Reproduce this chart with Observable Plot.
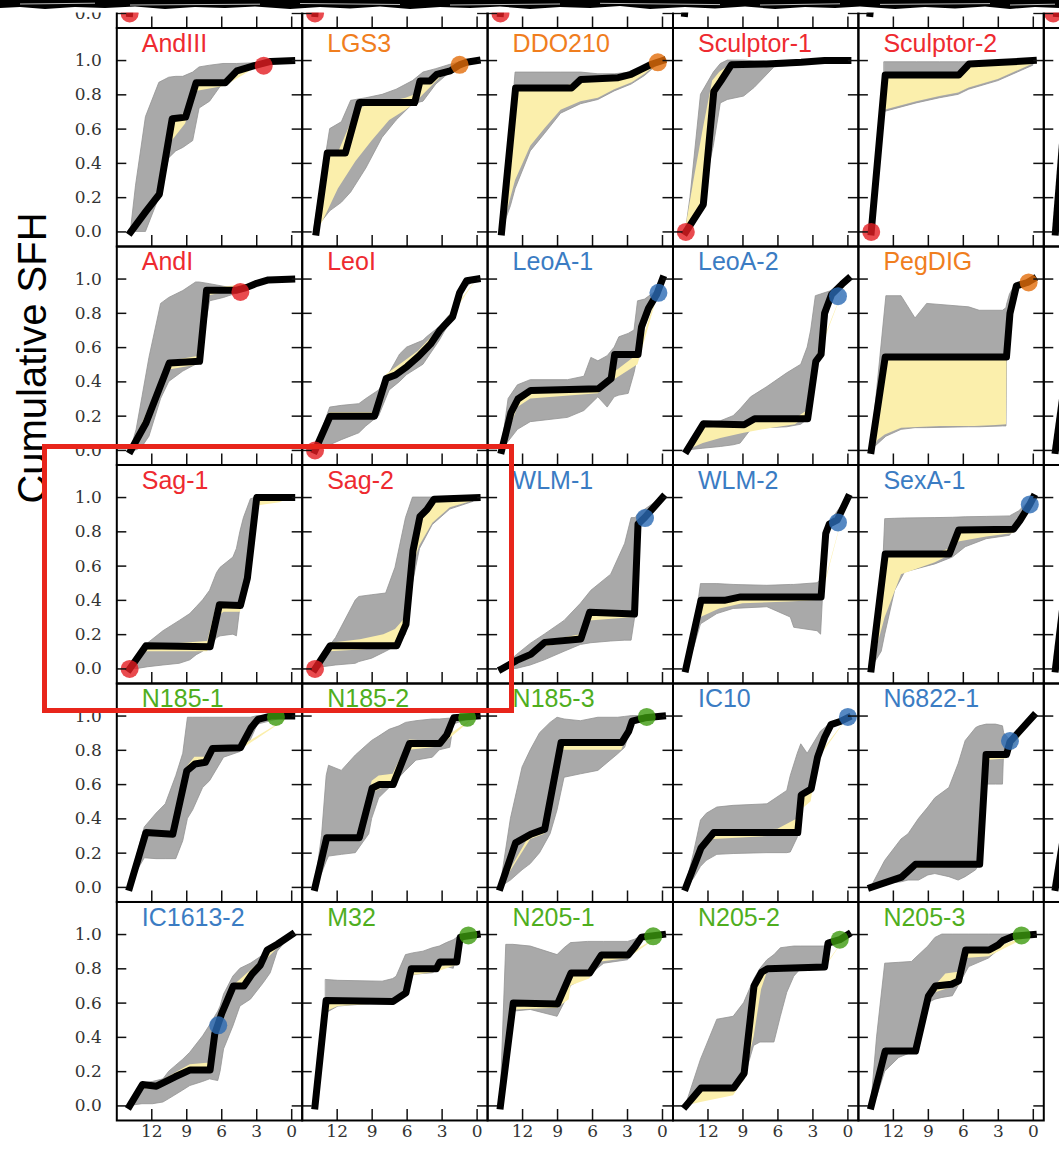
<!DOCTYPE html>
<html>
<head>
<meta charset="utf-8">
<script src="https://cdn.jsdelivr.net/npm/d3@7"></script>
<script src="https://cdn.jsdelivr.net/npm/@observablehq/plot@0.6"></script>
<style>
  html, body { margin: 0; padding: 0; background: #fff; }
  #page { position: relative; width: 1059px; height: 1152px; overflow: hidden; background: #fff; }
  #chart { position: absolute; left: 0; top: -191px; width: 1229px; }
  #chart svg { max-width: none !important; }
  #overlay { position: absolute; left: 0; top: 0; pointer-events: none; }
</style>
</head>
<body>
<div id="page">
  <div id="chart"></div>
  <svg id="overlay" width="1059" height="1152">
    <!-- torn paper edge along the top: blank margin with a ragged dark rim -->
    <rect x="0" y="0" width="1059" height="12.5" fill="#fff"/>
    <path d="M0,0 H1059 V8 L1035,7 L1010,9 L985,6.5 L955,8.5 L925,7 L895,9 L860,6.5 L835,8 L805,7 L775,9 L745,6.5 L715,8.5 L685,7 L650,9 L620,6 L590,8 L560,7 L530,9 L500,6.5 L470,8 L440,7 L410,9 L380,6.5 L350,8.5 L320,7 L290,9 L255,6.5 L225,8 L195,7 L165,9 L135,6.5 L105,8 L75,7 L45,9 L20,7 L0,8 Z" fill="#000"/>
    <path d="M20,4 L95,3.2 M130,5 L260,4.2 M300,3.5 L400,4.5 M450,5 L560,4 M600,3.3 L720,4.6 M760,5 L840,3.8 M880,4.4 L990,3.6 M1010,5 L1055,4.2" stroke="#cfcfcf" stroke-width="0.9" fill="none"/>
    <text id="ylabel" transform="translate(46,358) rotate(-90)" text-anchor="middle"
          font-family="Liberation Sans, Arial, Helvetica, sans-serif" font-size="40" fill="#000">Cumulative SFH</text>
    <rect x="44.5" y="446.5" width="467" height="264" fill="none" stroke="#e8251b" stroke-width="5"/>
  </svg>
</div>
<script>
// Cumulative star-formation histories, lookback time in Gyr.
const galaxyNames = [
  "AndIII", "LGS3", "DDO210", "Sculptor-1", "Sculptor-2",
  "AndI", "LeoI", "LeoA-1", "LeoA-2", "PegDIG",
  "Sag-1", "Sag-2", "WLM-1", "WLM-2", "SexA-1",
  "N185-1", "N185-2", "N185-3", "IC10", "N6822-1",
  "IC1613-2", "M32", "N205-1", "N205-2", "N205-3"
];
const galaxyTypes = [
  "dSph", "trans", "trans", "dSph", "dSph",
  "dSph", "dSph", "dIrr", "dIrr", "trans",
  "dSph", "dSph", "dIrr", "dIrr", "dIrr",
  "dE", "dE", "dE", "dIrr", "dIrr",
  "dIrr", "dE", "dE", "dE", "dE"
];

// best-fit cumulative SFH: [lookback Gyr, fraction]
const bestFit = [
  [[13.8,0],[12.5,0.12],[11.35,0.22],[10.9,0.4],[10.25,0.66],[9.1,0.67],[8.2,0.87],[5.7,0.87],[4.7,0.94],[3.2,0.97],[1.8,0.995],[0,1]],
  [[13.8,0],[12.85,0.46],[11.3,0.46],[10.1,0.755],[5.35,0.755],[4.9,0.88],[4.05,0.88],[3.45,0.92],[2.3,0.94],[1.5,0.975],[0.9,0.99],[0,1]],
  [[13.8,0],[12.6,0.84],[7.8,0.84],[7.0,0.89],[3.8,0.9],[2.7,0.92],[1.8,0.95],[0.9,0.98],[0,1]],
  [[13.9,0],[12.4,0.16],[11.5,0.82],[10.9,0.88],[10.0,0.975],[7,0.98],[4,0.99],[2,1],[0,1]],
  [[13.9,0],[12.7,0.915],[6.4,0.915],[5.5,0.98],[2.6,0.99],[0,1]],
  [[13.8,0],[12.5,0.16],[10.5,0.51],[7.9,0.52],[7.3,0.935],[4.7,0.935],[3.9,0.95],[3.0,0.975],[2.0,0.995],[0,1]],
  [[13.9,0],[12.6,0.2],[8.8,0.2],[7.8,0.42],[7.0,0.44],[6.0,0.49],[5.0,0.55],[4.0,0.62],[3.2,0.7],[2.1,0.78],[1.5,0.92],[0.9,0.99],[0,1]],
  [[13.8,0],[13.0,0.22],[12.4,0.3],[11.3,0.35],[5.5,0.36],[4.4,0.42],[4.1,0.56],[2.1,0.56],[1.8,0.72],[1.2,0.83],[0.5,0.91],[0,1]],
  [[13.8,0],[12.4,0.155],[8.9,0.15],[8.0,0.185],[3.45,0.185],[2.75,0.52],[2.3,0.56],[2.0,0.8],[1.4,0.91],[0.5,0.97],[0,1]],
  [[13.9,0],[12.7,0.545],[2.3,0.545],[2.0,0.8],[1.45,0.96],[0.5,0.98],[0,1]],
  [[13.9,0],[12.5,0.135],[7.0,0.13],[6.2,0.375],[4.4,0.37],[3.8,0.53],[3.0,1],[0,1]],
  [[13.9,0],[12.6,0.135],[6.9,0.135],[6.1,0.26],[5.5,0.69],[4.9,0.89],[4.3,0.93],[3.7,0.99],[0,1]],
  [[13.8,0],[12.5,0.05],[11.3,0.085],[10.1,0.155],[7.0,0.175],[6.25,0.33],[2.4,0.32],[2.1,0.845],[1.5,0.885],[0,1]],
  [[13.9,0],[12.6,0.4],[10.6,0.4],[9.2,0.42],[2.3,0.42],[1.9,0.79],[1.6,0.845],[0.9,0.87],[0,1]],
  [[13.9,0],[12.7,0.67],[7.2,0.67],[6.4,0.81],[1.7,0.815],[1.15,0.865],[0.3,0.96],[0,1]],
  [[13.9,0],[12.5,0.32],[10.2,0.31],[9.0,0.68],[8.3,0.72],[7.4,0.73],[6.8,0.81],[4.4,0.815],[3.5,0.93],[2.9,0.98],[1.8,1],[0,1]],
  [[13.9,0],[12.9,0.29],[10.1,0.29],[9.0,0.58],[8.4,0.6],[7.2,0.6],[5.8,0.84],[3.2,0.84],[2.6,0.89],[2.0,0.99],[0,1]],
  [[13.9,0],[12.6,0.26],[11.3,0.31],[10.1,0.34],[8.7,0.845],[3.5,0.845],[2.9,0.91],[2.6,0.97],[1.5,0.99],[0,1]],
  [[13.9,0],[12.6,0.23],[11.5,0.32],[4.3,0.32],[4.0,0.54],[3.15,0.575],[2.6,0.76],[2.0,0.875],[1.45,0.95],[0.6,0.97],[0,0.99]],
  [[13.9,0],[11.3,0.06],[10.1,0.135],[4.6,0.135],[4.05,0.775],[2.3,0.775],[2.0,0.85],[0,1]],
  [[13.9,0],[12.8,0.125],[11.6,0.115],[10,0.17],[8.7,0.21],[7.0,0.21],[6.6,0.42],[6.0,0.54],[5.0,0.7],[4.1,0.7],[3.4,0.77],[2.7,0.82],[2.1,0.91],[1.2,0.945],[0,1]],
  [[13.9,0],[12.95,0.615],[7.2,0.61],[6.1,0.66],[5.65,0.8],[3.5,0.8],[3.2,0.84],[1.75,0.84],[1.45,0.985],[0,1]],
  [[13.9,0],[12.8,0.6],[9.0,0.595],[7.85,0.775],[6.25,0.775],[5.25,0.88],[2.95,0.88],[2.35,0.93],[1.8,0.985],[0,1]],
  [[13.9,0],[12.6,0.105],[9.8,0.105],[8.9,0.19],[8.05,0.7],[7.4,0.78],[6.9,0.8],[2.0,0.81],[1.7,0.95],[0.7,0.97],[0,1]],
  [[13.9,0],[12.7,0.32],[10.1,0.32],[9.0,0.64],[8.4,0.7],[7.0,0.71],[6.4,0.73],[5.8,0.91],[3.8,0.91],[3.0,0.94],[2.6,0.965],[1.7,0.99],[0,1]]
];

// total (systematic + random) uncertainty envelope: [Gyr, lower, upper]
const grayBand = [
  [[13.8,0,0],[13.35,0,0.27],[12.5,0,0.67],[11.35,0.2,0.87],[10.5,0.43,0.9],[9.9,0.47,0.905],[9.3,0.49,0.905],[8.45,0.53,0.93],[7.9,0.72,0.96],[7.0,0.76,0.97],[5.85,0.87,0.98],[4.7,0.93,0.98],[2.9,0.97,0.985],[1.8,0.99,1],[0,1,1]],
  [[14,0,0],[13.3,0.06,0.3],[12.6,0.12,0.6],[11.6,0.17,0.64],[10.8,0.23,0.765],[9.5,0.37,0.78],[8.1,0.55,0.8],[6.9,0.65,0.83],[5.5,0.745,0.88],[4.6,0.76,0.93],[3.5,0.86,0.95],[2.3,0.93,0.975],[1.4,0.97,0.99],[0,1,1]],
  [[13.8,0,0],[13.0,0.15,0.6],[12.6,0.25,0.93],[11.3,0.47,0.93],[10.1,0.57,0.93],[8.7,0.69,0.93],[7.0,0.745,0.93],[5.5,0.77,0.92],[4.1,0.82,0.92],[2.65,0.86,0.93],[1.5,0.91,0.96],[0.5,0.97,0.99],[0,1,1]],
  [[13.9,0,0],[13.5,0.05,0.2],[12.6,0.15,0.8],[11.5,0.5,0.93],[10.9,0.75,0.98],[10.3,0.77,1],[8.9,0.79,1],[8.0,0.84,0.995],[6.3,0.96,0.99],[0,1,1]],
  [[12.75,0.7,0.99],[10,0.75,0.99],[8,0.78,0.99],[6.4,0.8,0.99],[5.5,0.83,0.99],[3,0.88,0.99],[1,0.94,1],[0,0.97,1]],
  [[13.8,0,0],[13.3,0,0.12],[12.8,0.02,0.31],[12.2,0.08,0.54],[11.2,0.3,0.855],[10.5,0.4,0.89],[9.3,0.46,0.93],[8.2,0.5,0.98],[7.9,0.52,0.98],[7.0,0.87,0.97],[5.8,0.89,0.955],[4.7,0.915,0.94],[3.5,0.95,0.965],[2,0.99,1],[0,1,1]],
  [[13.9,0,0],[12.6,0.03,0.25],[11.6,0.06,0.26],[10.1,0.1,0.27],[9.5,0.14,0.3],[8.4,0.2,0.35],[7.5,0.35,0.45],[6.6,0.4,0.56],[6.0,0.44,0.6],[4.6,0.5,0.64],[4.3,0.53,0.66],[3.2,0.64,0.72],[2.2,0.76,0.8],[1.5,0.92,0.93],[0,1,1]],
  [[13.8,0,0],[13.2,0.05,0.3],[12.4,0.12,0.38],[11.3,0.165,0.41],[8.1,0.19,0.41],[6.7,0.23,0.43],[6.1,0.27,0.54],[5.5,0.31,0.52],[4.7,0.25,0.55],[4.1,0.31,0.6],[3.7,0.32,0.66],[2.9,0.33,0.68],[2.4,0.45,0.7],[2.1,0.55,0.87],[1.5,0.72,0.88],[0.5,0.9,0.93],[0,1,1]],
  [[13.8,0,0],[12.4,0.01,0.16],[10.9,0.02,0.17],[9.8,0.03,0.2],[9.2,0.04,0.24],[8.3,0.12,0.31],[6.9,0.13,0.37],[5.2,0.135,0.45],[4.0,0.15,0.5],[3.45,0.18,0.6],[3.15,0.3,0.7],[2.75,0.5,0.9],[2.3,0.56,0.91],[1.4,0.91,0.93],[0,1,1]],
  [[13.9,0,0],[12.6,0.08,0.9],[11.3,0.12,0.9],[10.1,0.13,0.77],[9.1,0.13,0.855],[5.5,0.135,0.835],[4.6,0.135,0.815],[2.6,0.14,0.815],[2.3,0.14,0.83],[2.25,0.6,0.85],[2.0,0.8,0.91],[1.5,0.95,0.97],[0,1,1]],
  [[13.9,0,0],[13.2,0,0.08],[12.3,0.01,0.15],[11.0,0.02,0.22],[9.6,0.03,0.28],[8.7,0.05,0.32],[8.15,0.08,0.36],[7.6,0.1,0.4],[7.0,0.13,0.456],[6.4,0.18,0.56],[6.1,0.19,0.59],[5.0,0.2,0.65],[4.7,0.19,0.7],[4.4,0.36,0.8],[4.1,0.45,0.88],[3.5,0.8,0.99],[3.0,0.97,1],[0,1,1]],
  [[13.9,0,0],[13.2,0.01,0.08],[12.1,0.02,0.18],[10.4,0.03,0.4],[10.1,0.04,0.42],[9.0,0.06,0.43],[7.8,0.1,0.44],[7.0,0.13,0.59],[6.1,0.2,0.88],[5.5,0.5,1],[4.9,0.7,1],[3.8,0.84,1],[2.3,0.93,1],[0.3,0.975,1],[0,1,1]],
  [[13.8,0,0],[12.5,0,0.08],[11.3,0.02,0.146],[10.1,0.05,0.2],[8.4,0.1,0.28],[7.0,0.14,0.38],[6.1,0.15,0.456],[4.4,0.16,0.55],[3.2,0.165,0.73],[2.65,0.165,0.88],[2.3,0.32,0.88],[2.1,0.84,0.9],[0,1,1]],
  [[13.9,0,0],[13.2,0.12,0.2],[12.6,0.26,0.495],[11.2,0.32,0.495],[9.8,0.35,0.49],[6.9,0.36,0.485],[4.9,0.3,0.49],[4.6,0.24,0.49],[2.6,0.22,0.5],[2.3,0.2,0.52],[2.0,0.6,0.8],[1.6,0.84,0.85],[0,1,1]],
  [[13.9,0,0],[13.0,0.1,0.4],[12.7,0.2,0.874],[11.85,0.456,0.876],[11,0.563,0.878],[8.4,0.61,0.88],[6.9,0.65,0.882],[5.8,0.71,0.885],[4.0,0.757,0.887],[2.0,0.777,0.89],[1.2,0.85,0.92],[0,1,1]],
  [[13.9,0,0],[13.2,0.1,0.2],[12.6,0.17,0.35],[11.6,0.165,0.43],[10.8,0.165,0.485],[9.9,0.165,0.65],[9.3,0.27,0.78],[8.9,0.4,0.99],[8.45,0.45,0.99],[7.6,0.58,0.99],[7.0,0.62,0.99],[5.8,0.757,0.99],[4.4,0.79,0.99],[3.5,0.86,0.99],[2.9,0.95,1],[0,1,1]],
  [[13.9,0,0],[13.3,0.08,0.3],[12.9,0.15,0.65],[12.7,0.18,0.71],[11.6,0.19,0.68],[10.4,0.2,0.77],[9.25,0.31,0.84],[9.0,0.4,0.855],[8.4,0.52,0.88],[7.5,0.58,0.92],[6.65,0.64,0.94],[6.1,0.68,0.96],[5.2,0.74,0.97],[3.8,0.757,0.98],[3.2,0.8,0.98],[2.3,0.815,0.985],[2.0,0.95,0.99],[0,1,1]],
  [[13.9,0,0],[13.0,0.04,0.4],[12.0,0.1,0.7],[11.3,0.136,0.8],[10.5,0.2,0.9],[9.6,0.31,0.96],[9.0,0.45,0.99],[8.4,0.64,0.98],[7.0,0.66,0.97],[5.5,0.68,0.99],[3.8,0.777,0.99],[3.2,0.815,0.995],[2.6,0.95,1],[0,1,1]],
  [[13.9,0,0],[13.2,0.05,0.2],[12.6,0.12,0.39],[12.1,0.155,0.43],[11.2,0.19,0.466],[9.8,0.195,0.476],[6.9,0.2,0.485],[5.2,0.2,0.563],[4.9,0.204,0.65],[4.3,0.29,0.78],[4.0,0.5,0.835],[3.45,0.56,0.78],[2.3,0.78,0.91],[1.4,0.94,0.96],[0,0.99,1]],
  [[13.9,0,0],[12.7,0.02,0.155],[11.3,0.03,0.28],[10.7,0.04,0.31],[9.8,0.04,0.4],[9.0,0.07,0.466],[8.4,0.078,0.52],[7.2,0.06,0.58],[6.4,0.04,0.72],[5.8,0.06,0.854],[4.9,0.1,0.93],[4.6,0.136,0.94],[4.0,0.6,0.95],[3.2,0.6,0.95],[2.6,0.6,0.94],[2.5,0.8,0.9],[2.0,0.85,0.86],[0,1,1]],
  [[13.9,0,0],[12.8,0.01,0.13],[11.9,0.01,0.14],[11.0,0.02,0.155],[10.5,0.04,0.2],[9.3,0.09,0.27],[8.7,0.116,0.31],[7.6,0.14,0.406],[7.0,0.155,0.47],[6.3,0.145,0.55],[6.1,0.2,0.58],[5.8,0.33,0.65],[5.0,0.464,0.755],[4.4,0.58,0.8],[3.5,0.62,0.83],[2.4,0.716,0.88],[1.8,0.774,0.93],[1.2,0.9,0.96],[0,1,1]],
  [[12.95,0.54,0.735],[11.9,0.58,0.73],[8.1,0.6,0.725],[7.2,0.6,0.74],[6.9,0.61,0.754],[6.1,0.65,0.88],[5.5,0.764,0.89],[4.6,0.77,0.9],[3.8,0.774,0.92],[3.2,0.8,0.93],[2.6,0.81,0.95],[2.0,0.8,0.967],[1.5,0.97,0.99],[0,1,1]],
  [[13.9,0,0],[13.4,0.2,0.94],[12.8,0.55,0.94],[11.3,0.56,0.93],[9.0,0.52,0.88],[8.4,0.6,0.92],[7.85,0.7,0.95],[6.4,0.754,0.957],[5.0,0.83,0.957],[2.95,0.85,0.957],[2.35,0.92,0.97],[1.8,0.98,0.99],[0,1,1]],
  [[13.9,0,0],[12.6,0.06,0.27],[11.2,0.07,0.503],[9.8,0.08,0.52],[8.9,0.15,0.6],[8.05,0.35,0.735],[7.5,0.37,0.8],[6.9,0.37,0.85],[6.3,0.37,0.88],[5.75,0.52,0.92],[5.2,0.66,0.925],[4.6,0.754,0.93],[4.0,0.8,0.93],[2.0,0.8,0.93],[1.7,0.94,0.96],[0,1,1]],
  [[13.9,0,0],[13.4,0.05,0.4],[12.7,0.2,0.83],[11.5,0.28,0.835],[10.4,0.31,0.84],[10.1,0.32,0.86],[9.0,0.6,0.93],[8.4,0.62,0.98],[7.8,0.63,1],[6.9,0.64,1],[6.4,0.7,1],[5.5,0.81,1],[3.8,0.86,1],[2.6,0.93,1],[1.5,0.99,1],[0,1,1]]
];

// random-only uncertainty envelope: [Gyr, lower, upper]
const yellowBand = [
  [[13.8,0,0],[11.5,0.18,0.23],[10.6,0.5,0.6],[9.1,0.63,0.7],[8.2,0.82,0.87],[5.7,0.85,0.88],[3.0,0.96,0.98],[0,1,1]],
  [[14,0,0],[13.3,0.05,0.2],[12.8,0.12,0.46],[11.9,0.25,0.46],[10.4,0.41,0.7],[9.0,0.53,0.76],[7.5,0.65,0.76],[6.1,0.71,0.78],[5.3,0.75,0.8],[4.6,0.8,0.88],[3.0,0.91,0.93],[0,1,1]],
  [[13.8,0,0],[12.6,0.3,0.84],[11.3,0.5,0.84],[10.1,0.6,0.84],[8.7,0.71,0.84],[7.0,0.76,0.88],[5.5,0.78,0.9],[4.1,0.83,0.9],[2.6,0.87,0.92],[1.5,0.92,0.96],[0,1,1]],
  [[13.9,0,0.02],[13.2,0.05,0.3],[12.4,0.16,0.6],[11.6,0.7,0.88],[11,0.87,0.93],[10,0.97,0.98],[0,1,1]],
  [[12.75,0.71,0.915],[10,0.76,0.915],[8,0.79,0.915],[6.4,0.81,0.915],[5.5,0.84,0.98],[3,0.89,0.99],[1,0.95,1],[0,0.98,1]],
  [[13.8,0,0],[10.5,0.47,0.52],[7.9,0.5,0.55],[7.3,0.9,0.94],[0,1,1]],
  [[13.9,0,0],[12.6,0.18,0.22],[8.8,0.18,0.22],[7.8,0.4,0.44],[5.0,0.53,0.58],[3.2,0.68,0.71],[0,1,1]],
  [[13.8,0,0],[12.4,0.25,0.3],[11.3,0.3,0.35],[5.5,0.33,0.36],[4.4,0.4,0.44],[2.1,0.5,0.56],[0,1,1]],
  [[13.8,0,0],[12.4,0.04,0.155],[10.9,0.07,0.155],[8.9,0.1,0.15],[6.9,0.125,0.185],[4.5,0.15,0.185],[3.5,0.2,0.23],[2.8,0.5,0.52],[0,1,1]],
  [[13.9,0,0.01],[13.3,0.06,0.2],[12.7,0.09,0.545],[11.3,0.13,0.545],[8,0.14,0.545],[5,0.14,0.545],[3.2,0.146,0.545],[2.3,0.15,0.545],[2.25,0.6,0.62],[1.6,0.95,0.96],[0,1,1]],
  [[13.9,0,0],[12.5,0.1,0.135],[7.2,0.1,0.16],[6.4,0.3,0.38],[5.8,0.33,0.38],[4.4,0.33,0.37],[3.8,0.5,0.53],[3.0,0.95,1],[1.0,0.97,1],[0,1,1]],
  [[13.9,0,0],[12.6,0.1,0.15],[10,0.11,0.17],[8,0.12,0.2],[7.0,0.13,0.23],[6.1,0.2,0.3],[5.5,0.6,0.7],[4.9,0.72,0.9],[3.8,0.85,0.99],[2.3,0.94,1],[0.3,0.98,1],[0,1,1]],
  [[13.8,0,0],[11.3,0.06,0.09],[10.1,0.13,0.16],[7.0,0.16,0.2],[6.25,0.28,0.33],[2.4,0.3,0.33],[2.1,0.82,0.845],[0,1,1]],
  [[13.9,0,0],[12.6,0.3,0.4],[11,0.35,0.4],[9,0.38,0.42],[5,0.39,0.42],[2.3,0.4,0.42],[0,1,1]],
  [[13.9,0,0],[12.7,0.3,0.67],[11.3,0.55,0.67],[8.4,0.62,0.67],[7.2,0.66,0.7],[6.4,0.74,0.81],[4,0.77,0.815],[1.7,0.79,0.815],[0,1,1]],
  [[13.9,0,0],[12.5,0.3,0.33],[10.2,0.29,0.32],[9.0,0.66,0.7],[8.3,0.71,0.76],[7.4,0.72,0.76],[6.8,0.79,0.82],[4.4,0.8,0.82],[0,1,1]],
  [[13.9,0,0],[12.9,0.27,0.3],[10.1,0.27,0.3],[9.0,0.55,0.62],[8.4,0.57,0.65],[7.2,0.6,0.66],[5.8,0.8,0.86],[3.2,0.82,0.85],[0,1,1]],
  [[13.9,0,0],[11.3,0.28,0.31],[10.1,0.31,0.34],[8.7,0.8,0.845],[3.5,0.8,0.845],[2.6,0.95,0.97],[0,1,1]],
  [[13.9,0,0],[12.6,0.2,0.23],[11.5,0.28,0.32],[6,0.3,0.34],[4.3,0.32,0.4],[4.0,0.45,0.54],[3.15,0.5,0.575],[2.6,0.74,0.76],[0,0.99,0.99]],
  [[13.9,0,0],[11.3,0.04,0.06],[10.1,0.11,0.14],[4.6,0.12,0.15],[4.05,0.74,0.78],[2.3,0.75,0.78],[0,1,1]],
  [[13.9,0,0],[12.8,0.1,0.13],[11.6,0.1,0.13],[8.7,0.2,0.24],[7.0,0.2,0.25],[6.6,0.38,0.44],[5.0,0.66,0.7],[0,1,1]],
  [[12.95,0.55,0.615],[11.9,0.58,0.615],[7.2,0.6,0.615],[6.1,0.64,0.66],[5.65,0.76,0.8],[3.5,0.78,0.8],[1.75,0.82,0.84],[1.45,0.97,0.985],[0,1,1]],
  [[13.9,0,0],[12.8,0.56,0.6],[9.0,0.57,0.6],[8.0,0.62,0.7],[7.85,0.7,0.775],[6.25,0.74,0.775],[5.25,0.84,0.88],[2.95,0.86,0.88],[0,1,1]],
  [[13.9,0,0],[12.6,0.02,0.105],[9.8,0.06,0.105],[8.9,0.15,0.19],[8.05,0.4,0.7],[7.4,0.68,0.78],[6.9,0.78,0.8],[2.0,0.8,0.81],[0,1,1]],
  [[13.9,0,0],[12.7,0.3,0.32],[10.1,0.3,0.32],[9.0,0.6,0.64],[8.4,0.66,0.7],[7.5,0.68,0.77],[6.4,0.7,0.78],[5.8,0.86,0.91],[3.8,0.87,0.91],[0,1,1]]
];

// epoch marker on each history: [Gyr, fraction]
const markerPoints = [
  [2.4,0.97],[1.5,0.975],[0.4,0.99],[13.9,0],[13.9,0],
  [4.4,0.925],[13.9,0],[0.35,0.92],[0.85,0.9],[0.4,0.98],
  [13.9,0],[13.9,0],[1.5,0.88],[0.85,0.855],[0.3,0.96],
  [1.35,0.995],[0.85,0.99],[1.35,0.995],[0,0.995],[2.0,0.855],
  [6.3,0.47],[0.75,0.995],[0.8,0.99],[0.7,0.97],[1.0,0.995]
];

// neighbouring panels of the larger figure that run off the page edge
const neighbourCells  = [[0,0],[1,0],[2,0],[3,0],[4,0],[5,0],[5,1],[5,2],[5,3],[5,4]];
const neighbourFit = [
  [[13.9,0],[13.3,0.5]], [[13.9,0],[13.3,0.5]], [[13.9,0],[13.3,0.5]], [[14.0,0],[13.3,0.5]], [[14.0,0],[13.3,0.5]],
  [[13.9,0],[13.3,0.5]], [[14.0,0],[13.3,0.6]], [[14.0,0],[13.3,0.35]], [[14.0,0],[13.3,0.4]], [[14.0,0],[13.3,0.3]]
];
const neighbourMarkers = [[13.9,0],[13.9,0],[13.9,0],null,null,[14.2,0],null,null,null,null];
const neighbourTypes = ["dSph","dSph","dSph","dSph","dSph","dSph","dSph","dSph","dSph","dSph"];

const xTicks = [12, 9, 6, 3, 0];
const yTicks = [0, 0.2, 0.4, 0.6, 0.8, 1.0];

const titleColor = {dSph: "#ee2a30", trans: "#f07e1e", dIrr: "#3b7cc3", dE: "#4fae1e"};
const markerColor = {dSph: "#e31d22", trans: "#e26d0a", dIrr: "#2a6ab4", dE: "#3c9a0e"};

// --- tidy tables for the faceted marks ---
const fitRows = [], grayRows = [], yellowRows = [], markerRows = [], titleRows = [];
galaxyNames.forEach((name, i) => {
  const col = i % 5, row = 1 + Math.floor(i / 5), type = galaxyTypes[i];
  bestFit[i].forEach(([t, v]) => fitRows.push({panel: name, col, row, t, v}));
  grayBand[i].forEach(([t, lo, hi]) => grayRows.push({panel: name, col, row, t, lo, hi}));
  yellowBand[i].forEach(([t, lo, hi]) => yellowRows.push({panel: name, col, row, t, lo, hi}));
  markerRows.push({col, row, t: markerPoints[i][0], v: markerPoints[i][1], type});
  titleRows.push({col, row, name, type});
});
neighbourCells.forEach(([col, row], j) => {
  const key = "edge" + j;
  neighbourFit[j].forEach(([t, v]) => fitRows.push({panel: key, col, row, t, v}));
  if (neighbourMarkers[j]) markerRows.push({col, row, t: neighbourMarkers[j][0], v: neighbourMarkers[j][1], type: neighbourTypes[j]});
});

// tick labels: x under the bottom row of full panels, y beside the first column
const xLabelRows = [];
for (let col = 0; col < 5; ++col) xTicks.forEach(t => xLabelRows.push({col, row: 5, t}));
const yLabelRows = [];
for (let row = 0; row < 6; ++row) yTicks.forEach(v => { if (row > 0 || v === 0) yLabelRows.push({col: 0, row, v}); });

const PANEL_W = 185.4, PANEL_H = 218.5, LEFT = 116.3, BOTTOM = 30;
const serif = "DejaVu Serif, Liberation Serif, serif";

const chart = Plot.plot({
  width: LEFT + 6 * PANEL_W,
  height: 6 * PANEL_H + BOTTOM,
  marginLeft: LEFT, marginRight: 0, marginTop: 0, marginBottom: BOTTOM,
  style: {background: "white", maxWidth: "none"},
  x: {domain: [15, -0.9], axis: null},
  y: {domain: [-0.085, 1.19], axis: null},
  fx: {domain: d3.range(6), padding: 0, round: false, axis: null},
  fy: {domain: d3.range(6), padding: 0, round: false, axis: null},
  color: {type: "identity"},
  marks: [
    Plot.areaY(grayRows, {x: "t", y1: "lo", y2: "hi", z: "panel", fx: "col", fy: "row",
      fill: "#a9a9a9", stroke: "#939393", strokeWidth: 0.8}),
    Plot.areaY(yellowRows, {x: "t", y1: "lo", y2: "hi", z: "panel", fx: "col", fy: "row",
      fill: "#fbefac"}),
    Plot.line(fitRows, {x: "t", y: "v", z: "panel", fx: "col", fy: "row",
      stroke: "#000", strokeWidth: 7, strokeLinejoin: "round", strokeLinecap: "square"}),
    Plot.dot(markerRows, {x: "t", y: "v", fx: "col", fy: "row", r: 9,
      fill: d => markerColor[d.type], fillOpacity: 0.8}),
    Plot.text(titleRows, {fx: "col", fy: "row", text: "name", frameAnchor: "top-left",
      dx: 25, dy: 6, lineAnchor: "top", textAnchor: "start", fontSize: 25,
      fontFamily: "Liberation Sans, Arial, Helvetica, sans-serif",
      fill: d => titleColor[d.type]}),
    // inward ticks on left, right and bottom edges of every panel
    Plot.tickY(yTicks, {y: d => d, insetRight: PANEL_W - 10, stroke: "#111", strokeWidth: 1.5}),
    Plot.tickY(yTicks, {y: d => d, insetLeft: PANEL_W - 10, stroke: "#111", strokeWidth: 1.5}),
    Plot.tickX(xTicks, {x: d => d, insetTop: PANEL_H - 11, stroke: "#111", strokeWidth: 1.5}),
    Plot.frame({stroke: "#000", strokeWidth: 2}),
    Plot.text(xLabelRows, {x: "t", fx: "col", fy: "row", frameAnchor: "bottom", dy: 17,
      text: d => String(d.t), fontSize: 17, fontFamily: serif, fill: "#333"}),
    Plot.text(yLabelRows, {y: "v", fx: "col", fy: "row", frameAnchor: "left", dx: -15,
      textAnchor: "end", text: d => d3.format(".1f")(d.v), fontSize: 17, fontFamily: serif, fill: "#333"})
  ]
});
chart.style.maxWidth = "none";
document.getElementById("chart").appendChild(chart);
</script>
</body>
</html>
